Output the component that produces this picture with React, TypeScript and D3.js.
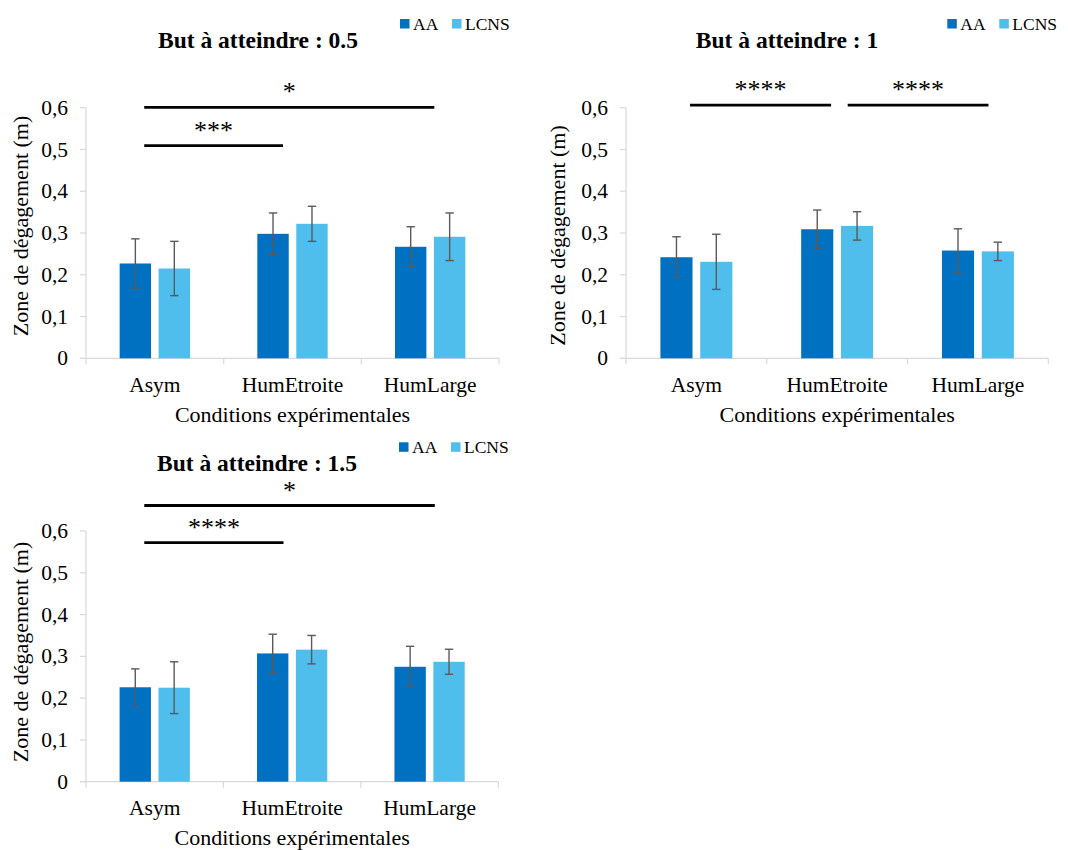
import React from "react";
import * as d3 from "d3";

// ---------- data ----------
const categories = ["Asym", "HumEtroite", "HumLarge"];
const seriesNames = ["AA", "LCNS"];
const yTickValues = [0, 0.1, 0.2, 0.3, 0.4, 0.5, 0.6];
const yTickLabels = ["0", "0,1", "0,2", "0,3", "0,4", "0,5", "0,6"];
const xAxisTitle = "Conditions expérimentales";
const yAxisTitle = "Zone de dégagement (m)";

const titles = ["But à atteindre : 0.5", "But à atteindre : 1", "But à atteindre : 1.5"];

const goal05AA = [0.227, 0.298, 0.267];
const goal05AAErr = [0.059, 0.05, 0.048];
const goal05LCNS = [0.215, 0.322, 0.291];
const goal05LCNSErr = [0.065, 0.042, 0.057];

const goal1AA = [0.242, 0.309, 0.258];
const goal1AAErr = [0.049, 0.046, 0.052];
const goal1LCNS = [0.231, 0.317, 0.256];
const goal1LCNSErr = [0.066, 0.034, 0.022];

const goal15AA = [0.226, 0.307, 0.275];
const goal15AAErr = [0.044, 0.046, 0.049];
const goal15LCNS = [0.225, 0.316, 0.287];
const goal15LCNSErr = [0.062, 0.034, 0.03];

// significance brackets: from category, to category, label, level (data units)
const goal05Sig = [
  { from: "Asym", to: "HumLarge", label: "*", level: 0.601 },
  { from: "Asym", to: "HumEtroite", label: "***", level: 0.509 },
];
const goal1Sig = [
  { from: "Asym", to: "HumEtroite", label: "****", level: 0.606 },
  { from: "HumEtroite", to: "HumLarge", label: "****", level: 0.606 },
];
const goal15Sig = [
  { from: "Asym", to: "HumLarge", label: "*", level: 0.661 },
  { from: "Asym", to: "HumEtroite", label: "****", level: 0.572 },
];

// ---------- layout ----------
const COLORS = ["#0070C0", "#4FBEEC"];
const AXIS = "#D9D9D9";
const FONT = "'Liberation Serif', 'Times New Roman', serif";

const panels = [
  {
    title: titles[0], aa: goal05AA, aaErr: goal05AAErr, lc: goal05LCNS, lcErr: goal05LCNSErr, sig: goal05Sig,
    sigFrac: [[0.423, 0.53], [0.423, 0.431]],
    x0: 86, x1: 499, yTop: 107.7, yBottom: 358.3,
    titleX: 258, titleY: 47.5, legendX: 400, legendY: 19,
    yLabX: 27.5, yLabY: 226,
  },
  {
    title: titles[1], aa: goal1AA, aaErr: goal1AAErr, lc: goal1LCNS, lcErr: goal1LCNSErr, sig: goal1Sig,
    sigFrac: [[0.455, 0.457], [0.575, 0.575]],
    x0: 626, x1: 1048.3, yTop: 107.7, yBottom: 358.3,
    titleX: 787, titleY: 47.5, legendX: 947.3, legendY: 19,
    yLabX: 565, yLabY: 235.5,
  },
  {
    title: titles[2], aa: goal15AA, aaErr: goal15AAErr, lc: goal15LCNS, lcErr: goal15LCNSErr, sig: goal15Sig,
    sigFrac: [[0.424, 0.538], [0.424, 0.437]],
    x0: 86, x1: 498.3, yTop: 531, yBottom: 781.7,
    titleX: 257, titleY: 471, legendX: 399, legendY: 442.3,
    yLabX: 27.5, yLabY: 652,
  },
];

function Panel({ p }: { p: any }) {
  const x = d3.scaleBand<string>().domain(categories).range([p.x0, p.x1]).paddingInner(0).paddingOuter(0);
  const bw = x.bandwidth();
  const inner = d3.scaleBand<string>().domain(seriesNames).range([0, bw]).paddingInner(0.194).paddingOuter(0.864);
  const y = d3.scaleLinear().domain([0, 0.6]).range([p.yBottom, p.yTop]);
  const series = [
    { name: seriesNames[0], vals: p.aa, errs: p.aaErr },
    { name: seriesNames[1], vals: p.lc, errs: p.lcErr },
  ];
  const boundaries = [...categories.map((c) => x(c) as number), p.x1];
  const capW = 4.2;
  return (
    <g>
      {/* title */}
      <text x={p.titleX} y={p.titleY} textAnchor="middle" fontFamily={FONT} fontWeight="bold" fontSize={23.5} fill="#000">
        {p.title}
      </text>
      {/* legend */}
      {seriesNames.map((s, i) => {
        const lx = p.legendX + i * 52;
        return (
          <g key={s}>
            <rect x={lx} y={p.legendY} width={9.5} height={9.5} fill={COLORS[i]} />
            <text x={lx + 13} y={p.legendY + 10.5} fontFamily={FONT} fontSize={17.5} fill="#000">{s}</text>
          </g>
        );
      })}
      {/* y axis */}
      <line x1={p.x0} x2={p.x0} y1={y(0.6)} y2={y(0)} stroke={AXIS} strokeWidth={1.2} />
      {yTickValues.map((v, i) => (
        <g key={i}>
          <line x1={p.x0 - 6} x2={p.x0} y1={y(v)} y2={y(v)} stroke={AXIS} strokeWidth={1.2} />
          <text x={p.x0 - 18} y={y(v)} dy="0.33em" textAnchor="end" fontFamily={FONT} fontSize={21.5} fill="#000">
            {yTickLabels[i]}
          </text>
        </g>
      ))}
      {/* x axis */}
      <line x1={p.x0 - 6} x2={p.x1} y1={y(0)} y2={y(0)} stroke={AXIS} strokeWidth={1.2} />
      {boundaries.map((bx, i) => (
        <line key={i} x1={bx} x2={bx} y1={y(0)} y2={y(0) + 6} stroke={AXIS} strokeWidth={1.2} />
      ))}
      {categories.map((c) => (
        <text key={c} x={(x(c) as number) + bw / 2} y={y(0) + 33.5} textAnchor="middle" fontFamily={FONT} fontSize={21.5} fill="#000">
          {c}
        </text>
      ))}
      <text x={(p.x0 + p.x1) / 2} y={y(0) + 63.5} textAnchor="middle" fontFamily={FONT} fontSize={22} fill="#000">
        {xAxisTitle}
      </text>
      <text transform={`translate(${p.yLabX},${p.yLabY}) rotate(-90)`} textAnchor="middle" fontFamily={FONT} fontSize={22} fill="#000">
        {yAxisTitle}
      </text>
      {/* bars */}
      {series.map((s, si) =>
        categories.map((c, ci) => {
          const bx = (x(c) as number) + (inner(s.name) as number);
          const bww = inner.bandwidth();
          return (
            <rect key={s.name + c} x={bx} y={y(s.vals[ci])} width={bww} height={y(0) - y(s.vals[ci])} fill={COLORS[si]} />
          );
        })
      )}
      {/* error bars */}
      {series.map((s) =>
        categories.map((c, ci) => {
          const cx = (x(c) as number) + (inner(s.name) as number) + inner.bandwidth() / 2;
          const hi = y(s.vals[ci] + s.errs[ci]);
          const lo = y(s.vals[ci] - s.errs[ci]);
          return (
            <g key={"e" + s.name + c} stroke="#5A5A5A" strokeWidth={1.4}>
              <line x1={cx} x2={cx} y1={hi} y2={lo} />
              <line x1={cx - capW} x2={cx + capW} y1={hi} y2={hi} />
              <line x1={cx - capW} x2={cx + capW} y1={lo} y2={lo} />
            </g>
          );
        })
      )}
      {/* significance */}
      {p.sig.map((s: any, i: number) => {
        const xa = (x(s.from) as number) + bw * p.sigFrac[i][0];
        const xb = (x(s.to) as number) + bw * p.sigFrac[i][1];
        const ly = y(s.level);
        return (
          <g key={"s" + i}>
            <line x1={xa} x2={xb} y1={ly} y2={ly} stroke="#000" strokeWidth={2.8} />
            <text x={(xa + xb) / 2} y={ly - 7} textAnchor="middle" fontFamily={FONT} fontSize={26} fill="#000">
              {s.label}
            </text>
          </g>
        );
      })}
    </g>
  );
}

export default function App() {
  return (
    <svg width={1068} height={850} style={{ position: "absolute", left: 0, top: 0, background: "#fff" }}>
      <rect width={1068} height={850} fill="#fff" />
      {panels.map((p, i) => (
        <Panel key={i} p={p} />
      ))}
    </svg>
  );
}
